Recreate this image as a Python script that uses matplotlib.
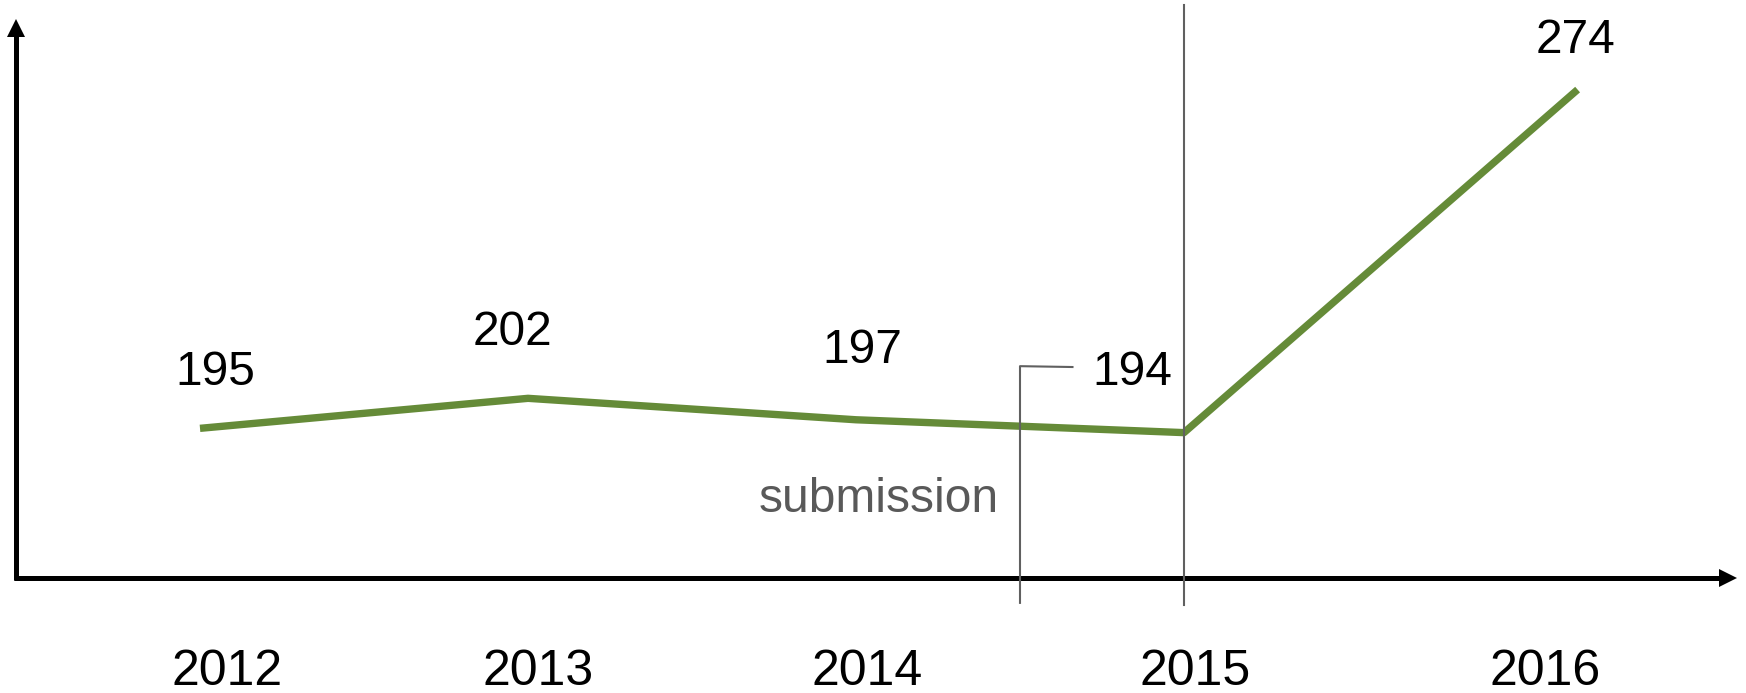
import matplotlib.pyplot as plt

years = ['2012', '2013', '2014', '2015', '2016']
values = [195, 202, 197, 194, 274]

# layout: x position of each point and pixel offsets of the labels
x_pos = [0, 1, 2, 3, 4.2]
value_offsets = [(15, 43), (-16, 53), (6, 57), (-52, 48), (-2, 37)]
year_offsets = [27, 10, 11, 11, -32]

W, H = 1746, 693
green = '#658b38'
gray = '#606060'

plt.rcParams['font.family'] = ['Liberation Sans', 'DejaVu Sans']

fig = plt.figure(figsize=(W / 100, H / 100), dpi=100)
ax = fig.add_axes([0, 0, 1, 1])
ax.set_xlim(-200 / 328, (W - 200) / 328)
ax.set_ylim((1264.5 - H) / 4.288, 1264.5 / 4.288)
ax.axis('off')


def px(x, y):
    # pixel position (from top left) to figure fraction
    return x / W, 1 - y / H


tf = fig.transFigure

# axes with arrow heads
(ax0, ay0), (ax1, ay1) = px(16, 580), px(16, 30)
ax.plot([ax0, ax1], [ay0, ay1], color='black', lw=3.6, transform=tf,
        clip_on=False, solid_capstyle='butt')
ax.plot(*px(16, 28), marker='^', ms=13, mew=0, color='black',
        transform=tf, clip_on=False)
(bx0, by0), (bx1, by1) = px(14, 578), px(1724, 578)
ax.plot([bx0, bx1], [by0, by1], color='black', lw=3.6, transform=tf,
        clip_on=False, solid_capstyle='butt')
ax.plot(*px(1728, 578), marker='>', ms=13, mew=0, color='black',
        transform=tf, clip_on=False)

# the series
ax.plot(x_pos, values, color=green, lw=5.3, solid_capstyle='butt', zorder=2)

for x, v, (dx, dy) in zip(x_pos, values, value_offsets):
    ax.annotate(str(v), (x, v), xytext=(dx, dy), textcoords='offset pixels',
                ha='center', va='baseline', fontsize=34.5, color='black')

for x, yr, dx in zip(x_pos, years, year_offsets):
    ax.annotate(yr, xy=(x, 0), xycoords=('data', 'figure pixels'),
                xytext=(dx, 8), textcoords='offset pixels',
                ha='center', va='baseline', fontsize=36, color='black')

# 2015 marker line and submission bracket
ax.plot([3, 3], [153.8, 293.7], color=gray, lw=1.5, zorder=3, clip_on=False)
ax.plot([2.66, 2.5, 2.5], [209.3, 209.5, 154.3], color=gray, lw=1.5, zorder=3)
ax.text(2.07, 175.5, 'submission', ha='center', va='baseline',
        fontsize=34.5, color='#595959')

fig.savefig('out.png', dpi=100)
